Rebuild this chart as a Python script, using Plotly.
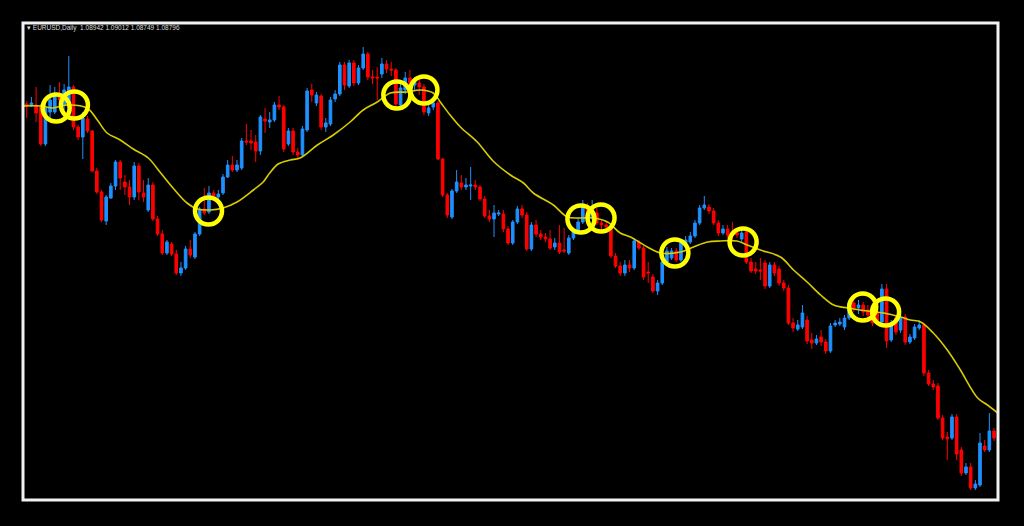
import plotly.graph_objs as go

# EURUSD daily, значения (уровни в пикселях от низа окна графика)
open_lv = [
    396, 394, 395, 393, 356, 388, 388, 405, 395, 393,
    413, 373, 363, 381, 369, 329, 308, 279, 302, 314,
    338, 318, 313, 303, 334, 307, 290, 315, 281, 266,
    247, 256, 246, 227, 232, 251, 243, 266, 291, 288,
    307, 303, 307, 323, 335, 330, 332, 359, 359, 358,
    349, 381, 378, 380, 395, 393, 356, 369, 348, 345,
    370, 410, 397, 404, 373, 376, 401, 406, 435, 414,
    437, 417, 432, 446, 423, 423, 426, 436, 431, 430,
    395, 410, 422, 415, 417, 413, 387, 393, 397, 341,
    305, 283, 309, 317, 313, 314, 315, 313, 301, 284,
    281, 286, 286, 271, 257, 278, 291, 285, 251, 275,
    266, 263, 261, 253, 257, 250, 247, 262, 268, 278,
    293, 282, 287, 277, 275, 273, 244, 234, 227, 235,
    232, 258, 252, 228, 223, 209, 217, 238, 242, 249,
    240, 257, 258, 264, 277, 292, 293, 289, 277, 267,
    271, 268, 267, 261, 268, 238, 231, 230, 237, 214,
    235, 231, 217, 212, 177, 171, 173, 180, 160, 157,
    163, 158, 149, 175, 176, 173, 182, 197, 192, 195,
    190, 188, 188, 178, 211, 160, 182, 170, 183, 158,
    162, 172, 175, 127, 116, 114, 82, 63, 62, 83,
    50, 27, 33, 12, 15, 54, 50, 69,
]
high_lv = [
    399, 403, 413, 396, 400, 415, 413, 418, 416, 444,
    415, 375, 388, 384, 370, 332, 310, 305, 317, 340,
    340, 325, 320, 338, 337, 320, 322, 318, 284, 270,
    260, 258, 250, 238, 254, 260, 268, 293, 312, 314,
    310, 310, 326, 340, 344, 340, 362, 376, 370, 365,
    385, 392, 388, 398, 404, 395, 372, 372, 352, 374,
    412, 416, 408, 406, 382, 403, 410, 438, 438, 440,
    440, 435, 453, 448, 430, 433, 442, 440, 438, 432,
    416, 428, 430, 423, 422, 416, 396, 400, 399, 342,
    307, 311, 330, 325, 322, 333, 320, 315, 304, 290,
    295, 290, 290, 274, 280, 294, 295, 288, 278, 280,
    270, 267, 270, 262, 275, 272, 265, 272, 282, 300,
    297, 300, 292, 280, 278, 277, 247, 238, 240, 240,
    262, 260, 254, 238, 226, 220, 241, 253, 252, 252,
    260, 264, 268, 280, 295, 304, 296, 292, 280, 275,
    275, 278, 272, 272, 272, 242, 238, 242, 240, 238,
    238, 234, 220, 215, 182, 180, 195, 184, 167, 165,
    170, 161, 177, 180, 182, 185, 200, 202, 200, 198,
    195, 192, 194, 216, 216, 180, 185, 186, 186, 166,
    176, 180, 177, 130, 120, 117, 85, 68, 86, 86,
    53, 37, 37, 20, 67, 60, 87, 72,
]
low_lv = [
    382, 393, 378, 354, 354, 382, 386, 397, 390, 391,
    370, 360, 341, 367, 328, 306, 278, 275, 301, 310,
    310, 305, 295, 300, 300, 298, 288, 279, 264, 245,
    245, 244, 225, 224, 230, 242, 241, 264, 285, 286,
    300, 300, 305, 322, 328, 328, 330, 355, 350, 338,
    345, 367, 372, 378, 390, 348, 354, 345, 340, 343,
    368, 398, 394, 370, 368, 374, 398, 404, 410, 412,
    414, 415, 430, 420, 416, 400, 422, 427, 424, 392,
    392, 406, 412, 410, 405, 385, 384, 390, 340, 303,
    282, 281, 307, 310, 310, 300, 310, 299, 282, 278,
    263, 284, 268, 255, 255, 276, 282, 249, 249, 263,
    260, 258, 250, 250, 246, 247, 245, 260, 266, 276,
    280, 280, 275, 270, 268, 242, 232, 224, 224, 228,
    230, 250, 220, 217, 207, 205, 215, 236, 240, 238,
    238, 255, 256, 262, 275, 290, 286, 275, 264, 265,
    262, 260, 262, 258, 236, 227, 226, 220, 211, 212,
    224, 214, 209, 175, 168, 169, 171, 156, 151, 155,
    154, 146, 147, 173, 174, 170, 180, 188, 186, 184,
    180, 174, 176, 176, 152, 158, 165, 167, 155, 156,
    160, 170, 124, 114, 110, 80, 60, 40, 60, 40,
    24, 25, 10, 10, 13, 48, 48, 59,
]
close_lv = [
    394, 397, 387, 356, 392, 400, 403, 400, 410, 413,
    373, 363, 382, 369, 329, 308, 280, 303, 314, 338,
    322, 313, 303, 334, 308, 303, 315, 281, 266, 247,
    258, 246, 227, 232, 251, 245, 266, 291, 287, 307,
    302, 306, 323, 335, 330, 335, 359, 358, 357, 349,
    383, 379, 380, 395, 393, 351, 369, 348, 345, 371,
    409, 405, 405, 373, 377, 400, 406, 435, 415, 437,
    417, 432, 446, 423, 422, 422, 436, 431, 430, 396,
    412, 422, 417, 418, 413, 388, 392, 397, 341, 305,
    285, 309, 318, 313, 315, 315, 313, 301, 284, 281,
    287, 287, 271, 257, 278, 291, 285, 251, 275, 266,
    263, 261, 252, 257, 248, 249, 262, 268, 278, 293,
    283, 288, 277, 275, 273, 244, 234, 227, 235, 232,
    259, 252, 223, 227, 209, 217, 238, 249, 249, 240,
    257, 260, 264, 277, 292, 295, 289, 277, 267, 271,
    265, 267, 265, 267, 238, 229, 229, 229, 214, 235,
    227, 217, 212, 177, 172, 175, 187, 159, 157, 161,
    158, 149, 174, 177, 178, 182, 197, 192, 195, 188,
    185, 177, 180, 211, 159, 177, 168, 183, 158, 163,
    173, 175, 127, 116, 113, 82, 62, 61, 83, 46,
    27, 33, 12, 16, 57, 50, 69, 62,
]

# скользящая средняя (жёлтая линия), снята по точкам
ma_x = [-1, 3, 5.6, 8.6, 12.9, 15.1, 17.2, 20, 22.8, 26, 28.5, 31.3, 34.3, 36.5,
        39.3, 42, 45, 48.5, 50.6, 52, 53.8, 56.4, 58.5, 62.2, 65.6, 69.2, 72, 75,
        77.8, 81.4, 84.2, 87, 88.5, 90.6, 92.8, 96.4, 99.8, 103.5, 106.3, 108.4,
        112.7, 115.7, 118.5, 121.3, 124.3, 127, 129.2, 132.8, 135.6, 139.9, 142.7,
        145.7, 148.5, 152, 154.2, 157, 161.3, 164.1, 167, 169.9, 172.7, 175.7, 180,
        183.4, 187, 189.1, 191.3, 194, 197, 199.8, 203.5, 205.6, 207.8]
ma_lv = [394, 394, 392, 395, 392, 380, 367, 360, 351, 342, 328, 312, 297, 291,
         290, 292, 298, 310, 318, 327, 336, 340, 342, 355, 365, 378, 390, 398,
         407, 408, 410, 407, 398, 385, 373, 358, 339, 325, 317, 307,
         295, 283, 282, 282, 278, 267, 263, 253, 247, 248, 253,
         258, 259, 259, 255, 250, 243, 230, 218, 205, 195, 192, 189,
         187, 183, 180, 178, 167, 150, 130, 102, 95, 87]

# пересечения цены и средней (жёлтые кольца)
signal_x = [6.3, 10.2, 38.9, 79.2, 85.0, 118.6, 122.9, 138.7, 153.3, 178.9, 183.8]
signal_lv = [392, 395, 289, 405, 410, 281, 282, 247, 258, 193, 188]

header = "EURUSD,Daily  1.08942 1.09012 1.08749 1.08796"

assert len(open_lv) == len(high_lv) == len(low_lv) == len(close_lv) == 208
assert len(ma_x) == len(ma_lv)


def to_price(levels):
    # 1 пиксель = 2 пипса, привязка к закрытию последней свечи
    return [round(1.08796 + (v - 62) * 0.0002, 5) for v in levels]


bars = list(range(len(close_lv)))

fig = go.Figure()
fig.add_trace(go.Candlestick(
    x=bars,
    open=to_price(open_lv), high=to_price(high_lv),
    low=to_price(low_lv), close=to_price(close_lv),
    increasing=dict(fillcolor="#1e90ff", line=dict(color="#1e90ff", width=1)),
    decreasing=dict(fillcolor="#ff0000", line=dict(color="#ff0000", width=1)),
    whiskerwidth=0,
    showlegend=False,
))
fig.add_scatter(x=ma_x, y=to_price(ma_lv), mode="lines", line=dict(color="#d8cc00", width=1.6, shape="spline"),
                showlegend=False)
fig.add_scatter(x=signal_x, y=to_price(signal_lv), mode="markers",
                marker=dict(symbol="circle-open", size=27, color="#ffff00", line=dict(width=4.5)),
                showlegend=False)

fig.add_annotation(x=0.002, y=0.99, xref="paper", yref="paper", xanchor="left", yanchor="middle",
                   text="▾ " + header, showarrow=False,
                   font=dict(family="Liberation Sans Narrow, Liberation Sans", size=6.5, color="#dcdcdc"))
fig.add_shape(type="rect", xref="paper", yref="paper", x0=0, y0=0, x1=1, y1=1,
              line=dict(color="#f2f2f2", width=3))

fig.update_xaxes(range=[-0.8, 207.85], visible=False, rangeslider_visible=False)
fig.update_yaxes(range=to_price([0, 477]), visible=False)
fig.update_layout(
    width=1024, height=526,
    margin=dict(l=23, r=26, t=23, b=26),
    paper_bgcolor="#000000", plot_bgcolor="#000000",
    boxgap=0.2,
)

# убрать отступ body, чтобы график встал в окно ровно
fig.write_html("out.html", config={"displayModeBar": False},
               post_script="document.body.style.margin='0';document.body.style.background='#000';")
